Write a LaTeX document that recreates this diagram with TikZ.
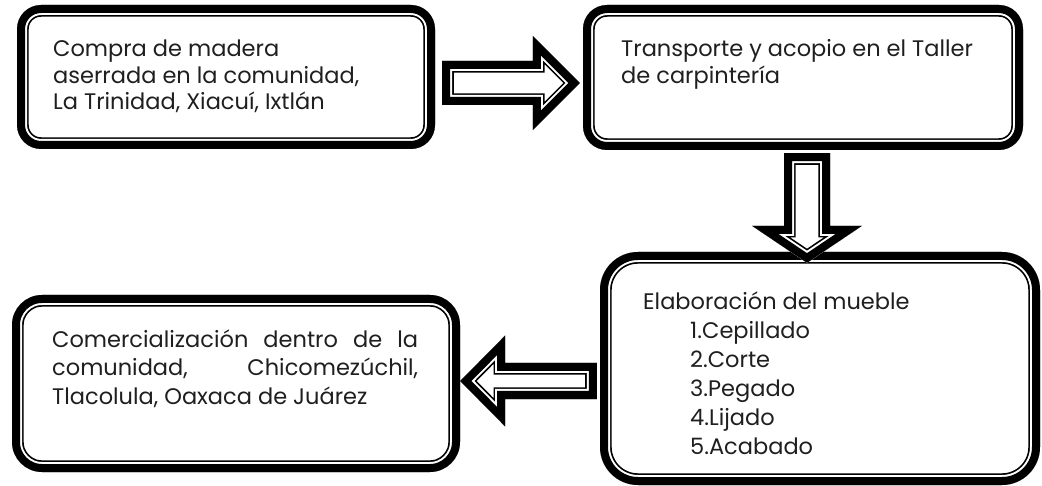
\documentclass[tikz,border=0pt]{standalone}
\usepackage{fontspec}
\setmainfont{Poppins}
\usetikzlibrary{calc}
\tikzset{
  x=1pt, y=-1pt,
  dbox/.style={rectangle, rounded corners=#1, draw=none, fill=white, inner sep=0pt,
    path picture={
      \draw[line width=23.4pt, rounded corners=#1] (path picture bounding box.south west) rectangle (path picture bounding box.north east);
      \draw[white, line width=20pt, rounded corners=#1] (path picture bounding box.south west) rectangle (path picture bounding box.north east);
      \draw[line width=16pt, rounded corners=#1] (path picture bounding box.south west) rectangle (path picture bounding box.north east);
    }},
  txt/.style={anchor=base west, align=left, inner sep=0pt, text=black!88,
    font=\fontsize{22.5}{26.5}\selectfont},
  arrowline/.style={line join=miter, miter limit=30},
}
\newcommand\blockarrow[1]{%
  \begin{scope}
    \fill[white] #1;
    \clip #1;
    \draw[arrowline, line width=23.4pt] #1;
    \draw[arrowline, white, line width=20pt] #1;
    \draw[arrowline, line width=16pt] #1;
  \end{scope}}
\begin{document}
\begin{tikzpicture}
\useasboundingbox (0,0) rectangle (1042,486);
\node[dbox=24pt, minimum width=418pt, minimum height=144pt] (b1) at (226,77) {};
\node[dbox=24pt, minimum width=440pt, minimum height=145pt] (b2) at (803,77.5) {};
\node[dbox=38pt, minimum width=440pt, minimum height=233pt] (b3) at (820,368.5) {};
\node[dbox=30pt, minimum width=448pt, minimum height=177pt] (b4) at (236,383.5) {};

\node[txt] (t1) at (53,110) {Compra de madera\\aserrada en la comunidad,\\La Trinidad, Xiacuí, Ixtlán};
\node[txt] (t2) at (621,83.5) {Transporte y acopio en el Taller\\de carpintería};
\node[txt, font=\fontsize{22.5}{29}\selectfont] (t3) at (643,454) {Elaboración del mueble\\
  \hspace*{47pt}1.Cepillado\\ \hspace*{47pt}2.Corte\\ \hspace*{47pt}3.Pegado\\
  \hspace*{47pt}4.Lijado\\ \hspace*{47pt}5.Acabado};
\node[txt, font=\fontsize{22.5}{28.5}\selectfont] (t4) at (52,404) {\makebox[366pt][s]{Comercialización dentro de la}\\
  \makebox[366pt][s]{comunidad, Chicomezúchil,}\\Tlacolula, Oaxaca de Juárez};

\coordinate (a1s) at ([shift={(7,6)}]b1.east);
\coordinate (a1t) at ([shift={(-3,5.5)}]b2.west);
\coordinate (a2s) at ([shift={(4,3)}]b2.south);
\coordinate (a2t) at ([shift={(-13,11)}]b3.north);
\coordinate (a3s) at ([shift={(-3,12.5)}]b3.west);
\coordinate (a3t) at ([shift={(0,-2.5)}]b4.east);

% right arrow
\blockarrow{let \p1=(a1s), \p2=(a1t) in
  (\x1,\y1+22pt) -- (\x2-47pt,\y1+22pt) -- (\x2-47pt,\y1+47pt) -- (\x2,\y2)
  -- (\x2-47pt,\y1-47pt) -- (\x2-47pt,\y1-22pt) -- (\x1,\y1-22pt) -- cycle}
% down arrow
\blockarrow{let \p1=(a2s), \p2=(a2t) in
  (\x1-23pt,\y1) -- (\x1-23pt,\y2+37pt) -- (\x1-55pt,\y2+37pt) -- (\x2,\y2)
  -- (\x1+55pt,\y2+37pt) -- (\x1+23pt,\y2+37pt) -- (\x1+23pt,\y1) -- cycle}
% left arrow
\blockarrow{let \p1=(a3s), \p2=(a3t) in
  (\x1,\y1+18pt) -- (\x2+45pt,\y1+18pt) -- (\x2+45pt,\y1+45.5pt) -- (\x2,\y1)
  -- (\x2+45pt,\y1-45.5pt) -- (\x2+45pt,\y1-18pt) -- (\x1,\y1-18pt) -- cycle}
\end{tikzpicture}
\end{document}
